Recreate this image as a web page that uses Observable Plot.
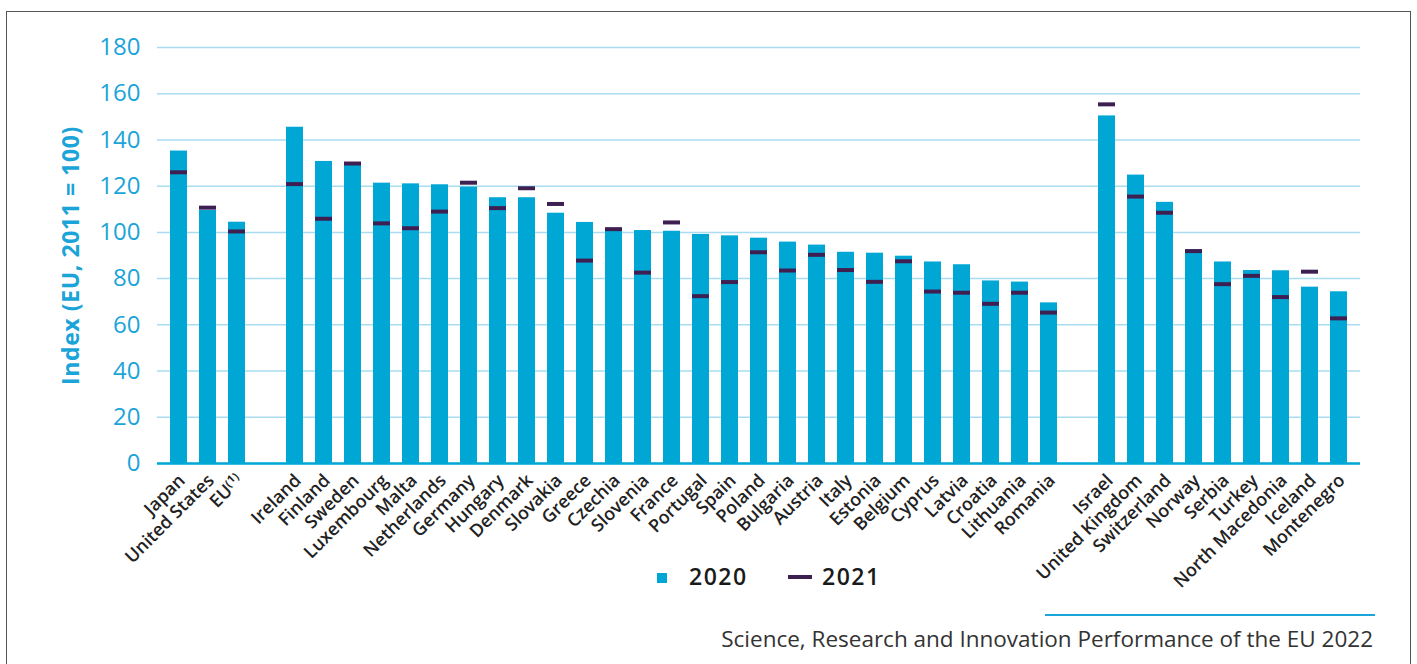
<!DOCTYPE html>
<html>
<head>
<meta charset="utf-8">
<script src="https://cdn.jsdelivr.net/npm/d3@7"></script>
<script src="https://cdn.jsdelivr.net/npm/@observablehq/plot@0.6"></script>
<style>
  body { margin: 0; background: #fff; font-family: "Open Sans", sans-serif; }
  #wrap { position: relative; width: 1417px; height: 664px; overflow: hidden; background: #fff; }
  #frame { position: absolute; left: 6px; top: 11px; width: 1405px; height: 720px; border: 1.5px solid #555; box-sizing: border-box; pointer-events: none; }
  #chart { position: absolute; left: 0; top: 0; }
  #legend { position: absolute; left: 0; top: 0; width: 100%; height: 100%; pointer-events: none; }
  .lg-item { position: absolute; font-size: 23px; font-weight: 600; color: #1a1a1a; line-height: 1; letter-spacing: 1.5px; }
  #footline { position: absolute; left: 1045px; top: 614px; width: 330px; height: 2px; background: #1aa6d8; }
  #foottext { position: absolute; right: 44px; top: 623px; font-size: 22.5px; color: #333; white-space: nowrap; }
</style>
</head>
<body>
<div id="wrap">
  <div id="chart"></div>
  <div id="legend"></div>
  <div id="footline"></div>
  <div id="foottext">Science, Research and Innovation Performance of the EU 2022</div>
  <div id="frame"></div>
</div>
<script>
// ---- data ----
const groupA = ["Japan", "United States", "EU⁽¹⁾"];
const groupB = ["Ireland", "Finland", "Sweden", "Luxembourg", "Malta", "Netherlands", "Germany", "Hungary", "Denmark", "Slovakia", "Greece", "Czechia", "Slovenia", "France", "Portugal", "Spain", "Poland", "Bulgaria", "Austria", "Italy", "Estonia", "Belgium", "Cyprus", "Latvia", "Croatia", "Lithuania", "Romania"];
const groupC = ["Israel", "United Kingdom", "Switzerland", "Norway", "Serbia", "Turkey", "North Macedonia", "Iceland", "Montenegro"];

const values2020A = [135.2, 109.5, 104.4];
const values2021A = [126.0, 110.7, 100.4];
const values2020B = [145.5, 130.7, 129.0, 121.3, 121.0, 120.6, 119.6, 115.0, 115.0, 108.3, 104.3, 101.0, 100.8, 100.5, 99.1, 98.5, 97.5, 95.8, 94.5, 91.4, 91.0, 89.7, 87.2, 86.0, 79.0, 78.5, 69.5];
const values2021B = [120.9, 105.9, 129.8, 103.9, 101.8, 109.0, 121.5, 110.5, 119.1, 112.3, 87.8, 101.4, 82.6, 104.3, 72.4, 78.5, 91.4, 83.5, 90.3, 83.7, 78.6, 87.5, 74.4, 73.9, 69.1, 73.9, 65.3];
const values2020C = [150.4, 124.8, 113.0, 92.5, 87.2, 83.5, 83.4, 76.3, 74.3];
const values2021C = [155.4, 115.5, 108.5, 91.9, 77.6, 81.2, 72.0, 83.0, 62.8];

const yTicks = [0, 20, 40, 60, 80, 100, 120, 140, 160, 180];
const yLabel = "Index (EU, 2011 = 100)";
const seriesNames = ["2020", "2021"];
const gapKeys = ["gap1", "gap2"];

// ---- build table ----
const countries = [...groupA, ...groupB, ...groupC];
const v2020 = [...values2020A, ...values2020B, ...values2020C];
const v2021 = [...values2021A, ...values2021B, ...values2021C];
const data = countries.map((c, i) => ({country: c, v2020: v2020[i], v2021: v2021[i]}));
const xDomain = [...groupA, gapKeys[0], ...groupB, gapKeys[1], ...groupC];

const BAR = "#00a7d5";
const MARK = "#3d1f52";
const GRID = "#a9dcf0";
const AXIS = "#1ba4d8";

const chart = Plot.plot({
  width: 1417,
  height: 600,
  marginTop: 47,
  marginBottom: 137,
  marginLeft: 157,
  marginRight: 57,
  style: {fontFamily: "'Open Sans', sans-serif", background: "transparent", overflow: "visible"},
  x: {domain: xDomain, paddingInner: 0.42, paddingOuter: 0.21, label: null},
  y: {domain: [0, 180], label: null},
  marks: [
    Plot.gridY(yTicks, {stroke: GRID, strokeOpacity: 1, strokeWidth: 1.5}),
    Plot.barY(data, {x: "country", y: "v2020", fill: BAR}),
    Plot.tickY(data, {x: "country", y: "v2021", stroke: MARK, strokeWidth: 4}),
    Plot.ruleY([0], {stroke: BAR, strokeWidth: 2.5}),
    Plot.axisY(yTicks, {tickSize: 0, tickPadding: 17, fontSize: 24, fill: AXIS, label: null}),
    Plot.axisX({tickSize: 0, tickPadding: 12, tickRotate: -45, dx: 3, dy: 2, fontSize: 18, fontWeight: 600, fill: "#222", label: null,
      tickFormat: d => gapKeys.includes(d) ? "" : d}),
    Plot.text([yLabel], {frameAnchor: "left", dx: -86, rotate: -90, fontSize: 23, fontWeight: 700, fill: AXIS, textAnchor: "middle", lineAnchor: "middle"})
  ]
});
document.getElementById("chart").appendChild(chart);
chart.querySelectorAll("text").forEach(t => {
  if (t.textContent === yLabel) t.style.letterSpacing = "0.6px";
});

// ---- legend ----
const legend = document.getElementById("legend");
legend.innerHTML = `
  <div style="position:absolute;left:657px;top:573px;width:10px;height:10px;background:${BAR}"></div>
  <div class="lg-item" style="left:689px;top:565px">${seriesNames[0]}</div>
  <div style="position:absolute;left:788px;top:575px;width:24px;height:4px;background:${MARK}"></div>
  <div class="lg-item" style="left:822px;top:565px">${seriesNames[1]}</div>
`;
</script>
</body>
</html>
